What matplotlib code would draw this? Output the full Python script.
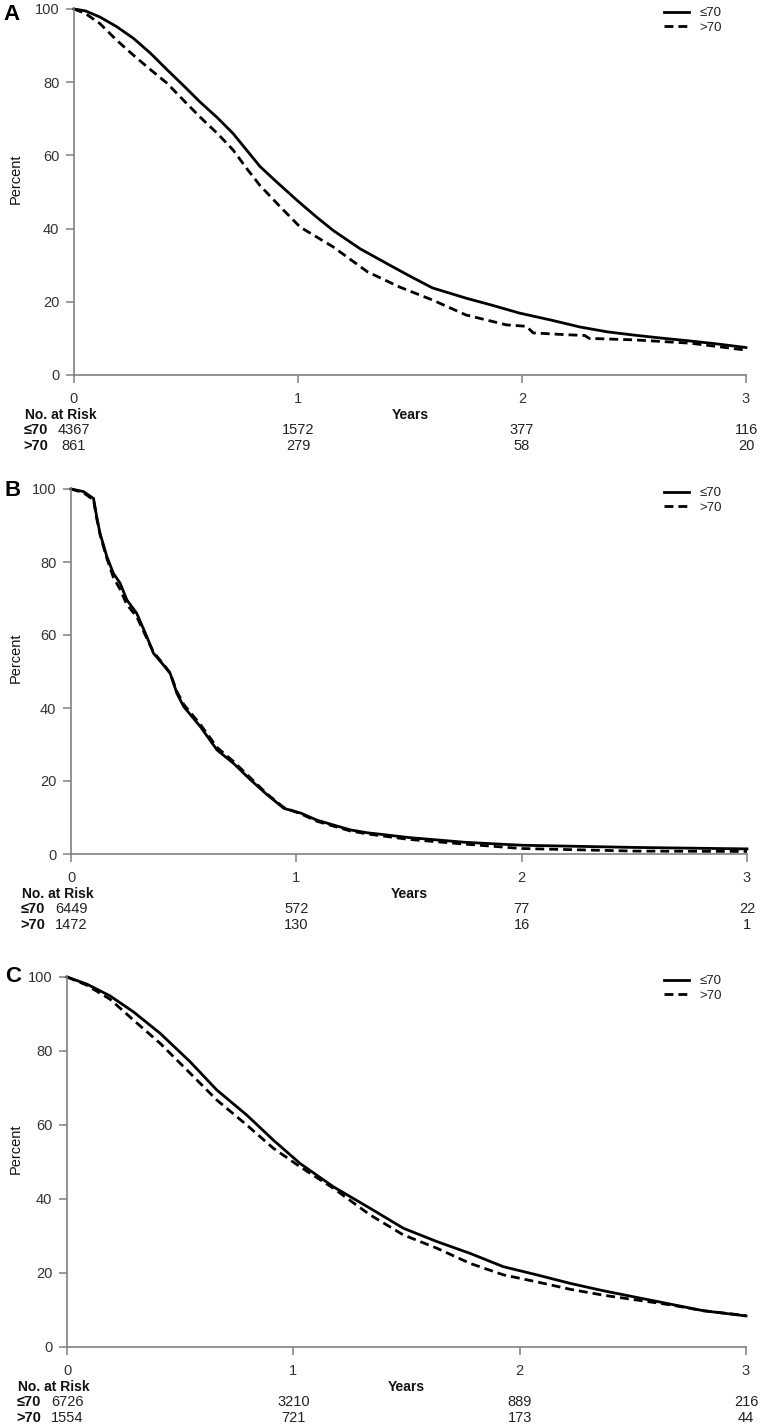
import numpy as np
import matplotlib.pyplot as plt
from matplotlib import transforms

plt.rcParams['font.family'] = ['Liberation Sans', 'DejaVu Sans']

W, H = 762, 1428

# panel A: survival (%) vs years
a_t_le = [0, 0.05, 0.116, 0.19, 0.265, 0.34, 0.414, 0.49, 0.5625, 0.64, 0.71, 0.77, 0.83,
          0.9, 1.0, 1.08, 1.157, 1.277, 1.41, 1.5, 1.6, 1.75, 1.87, 1.99, 2.13, 2.26,
          2.38, 2.5, 2.62, 2.75, 2.87, 3.0]
a_v_le = [100, 99.5, 97.8, 95.2, 92.0, 88.0, 83.5, 79.0, 74.6, 70.3, 66.0, 61.5, 57.0,
          53.0, 47.5, 43.3, 39.5, 34.5, 30.0, 27.0, 23.8, 21.0, 19.0, 16.9, 15.0, 13.1,
          11.8, 10.9, 10.1, 9.3, 8.5, 7.5]
a_t_gt = [0, 0.05, 0.116, 0.19, 0.265, 0.34, 0.414, 0.49, 0.5625, 0.64, 0.71, 0.77, 0.83,
          0.92, 1.01, 1.157, 1.31, 1.455, 1.6, 1.75, 1.93, 2.02, 2.05, 2.2, 2.28, 2.3,
          2.5, 2.75, 3.0]
a_v_gt = [100, 98.8, 96.0, 91.5, 87.4, 83.5, 79.8, 75.0, 70.5, 66.0, 61.5, 56.5, 51.8,
          46.0, 40.4, 35.0, 28.2, 24.0, 20.5, 16.4, 13.7, 13.3, 11.5, 11.0, 10.8, 10.0,
          9.6, 8.7, 6.8]

# panel B
b_t_le = [0, 0.055, 0.10, 0.114, 0.129, 0.159, 0.188, 0.218, 0.248, 0.292, 0.337, 0.366,
          0.41, 0.44, 0.47, 0.50, 0.574, 0.648, 0.722, 0.797, 0.871, 0.945, 1.02, 1.09,
          1.167, 1.24, 1.316, 1.375, 1.5, 1.75, 2.0, 2.5, 3.0]
b_v_le = [100, 99.3, 97.4, 92.4, 87.8, 81.5, 76.9, 74.2, 69.6, 65.9, 59.5, 55.0,
          51.8, 49.5, 44.0, 40.4, 34.9, 28.5, 24.8, 20.3, 16.2, 12.5, 11.2, 9.3,
          7.9, 6.6, 5.8, 5.4, 4.5, 3.2, 2.4, 1.8, 1.4]
b_t_gt = [0, 0.055, 0.10, 0.114, 0.129, 0.159, 0.188, 0.218, 0.248, 0.292, 0.337, 0.366,
          0.41, 0.44, 0.47, 0.50, 0.574, 0.648, 0.722, 0.797, 0.871, 0.945, 1.02, 1.09,
          1.167, 1.24, 1.316, 1.375, 1.5, 1.75, 2.0, 2.5, 3.0]
b_v_gt = [100, 99.0, 97.0, 92.0, 87.5, 81.0, 75.8, 72.5, 68.3, 65.0, 59.0, 55.3,
          52.0, 49.6, 44.5, 41.0, 35.5, 29.2, 25.3, 20.8, 16.4, 12.7, 11.0, 9.0,
          7.6, 6.3, 5.5, 5.0, 4.0, 2.7, 1.5, 0.8, 0.7]

# panel C
c_t_le = [0, 0.087, 0.19, 0.293, 0.411, 0.544, 0.661, 0.794, 0.912, 1.03, 1.177, 1.339,
          1.486, 1.634, 1.781, 1.928, 2.076, 2.223, 2.37, 2.517, 2.665, 2.812, 3.0]
c_v_le = [100, 98.1, 94.9, 90.6, 84.8, 77.1, 69.5, 62.7, 55.9, 49.6, 43.3, 37.5,
          32.1, 28.5, 25.3, 21.7, 19.5, 17.2, 15.2, 13.4, 11.6, 9.8, 8.4]
c_t_gt = [0, 0.087, 0.19, 0.293, 0.411, 0.544, 0.661, 0.794, 0.912, 1.03, 1.177, 1.339,
          1.486, 1.634, 1.781, 1.928, 2.076, 2.223, 2.37, 2.517, 2.665, 2.812, 3.0]
c_v_gt = [100, 97.8, 94.0, 88.4, 82.1, 74.0, 66.8, 60.0, 53.7, 48.7, 42.9, 35.7,
          30.3, 26.7, 22.6, 19.5, 17.6, 15.6, 14.0, 12.7, 11.4, 9.8, 8.5]

risk_times = [0, 1, 2, 3]
a_risk_le = [4367, 1572, 377, 116]
a_risk_gt = [861, 279, 58, 20]
b_risk_le = [6449, 572, 77, 22]
b_risk_gt = [1472, 130, 16, 1]
c_risk_le = [6726, 3210, 889, 216]
c_risk_gt = [1554, 721, 173, 44]

group_labels = ['≤70', '>70']
panel_letters = ['A', 'B', 'C']

panels = [
    (a_t_le, a_v_le, a_t_gt, a_v_gt, a_risk_le, a_risk_gt),
    (b_t_le, b_v_le, b_t_gt, b_v_gt, b_risk_le, b_risk_gt),
    (c_t_le, c_v_le, c_t_gt, c_v_gt, c_risk_le, c_risk_gt),
]
# axes boxes in pixels: left, right, top, bottom
boxes = [(74, 746, 9, 375), (71, 747, 489, 854), (67, 746, 977, 1347)]
letter_pos = [(12, 15), (13, 491), (13, 977)]

gray = '#808080'
fig = plt.figure(figsize=(W / 100, H / 100), dpi=100)

for i, (t1, v1, t2, v2, r1, r2) in enumerate(panels):
    l, r, t, b = boxes[i]
    ax = fig.add_axes([l / W, 1 - b / H, (r - l) / W, (b - t) / H])
    ax.plot(t1, v1, color='black', lw=2.0, label=group_labels[0], clip_on=False)
    ax.plot(t2, v2, color='black', lw=2.0, dashes=(3.2, 1.8), label=group_labels[1],
            clip_on=False)
    ax.set_xlim(0, 3)
    ax.set_ylim(0, 100)
    ax.set_xticks(risk_times)
    ax.set_yticks(range(0, 101, 20))
    for s in ['top', 'right']:
        ax.spines[s].set_visible(False)
    for s in ['left', 'bottom']:
        ax.spines[s].set_color(gray)
        ax.spines[s].set_linewidth(1.2)
    ax.tick_params(direction='out', length=5.5, width=1.1, color=gray,
                   labelcolor='#333333', labelsize=10.5)
    ax.tick_params(axis='x', pad=6.5)
    ax.tick_params(axis='y', pad=5)

    leg = ax.legend(loc='upper left', bbox_to_anchor=((664 - l) / (r - l), 1 + 2 / (b - t)),
                    frameon=False, fontsize=9.5, handlelength=1.9, handletextpad=0.8,
                    labelspacing=0.2, borderpad=0, borderaxespad=0)
    for txt in leg.get_texts():
        txt.set_color('#222222')

    # number at risk table under the axis
    def row(dy):
        return transforms.offset_copy(ax.get_xaxis_transform(), fig=fig, x=0, y=-dy,
                                      units='dots')
    ax.text(0, 0, 'No. at Risk', transform=transforms.offset_copy(
        ax.get_xaxis_transform(), fig=fig, x=-49, y=-40, units='dots'),
        ha='left', va='center', fontsize=10, fontweight='bold', color='#111111')
    ax.text(1.5, 0, 'Years', transform=row(40), ha='center', va='center',
            fontsize=10, fontweight='bold', color='#111111')
    for j, (lab, vals) in enumerate(zip(group_labels, [r1, r2])):
        dy = 55 + 16 * j
        ax.text(0, 0, lab, transform=transforms.offset_copy(
            ax.get_xaxis_transform(), fig=fig, x=-26, y=-dy, units='dots'),
            ha='right', va='center', fontsize=10.5, fontweight='bold', color='#111111')
        for x, n in zip(risk_times, vals):
            ax.text(x, 0, str(n), transform=row(dy), ha='center', va='center',
                    fontsize=10.5, color='#222222')

    # y label and panel letter
    fig.text(16 / W, 1 - (b - 0.537 * (b - t)) / H, 'Percent', rotation=90,
             ha='center', va='center', fontsize=10.5, color='#111111')
    lx, ly = letter_pos[i]
    fig.text(lx / W, 1 - ly / H, panel_letters[i], ha='center', va='center',
             fontsize=16, fontweight='bold')

plt.savefig('out.png', dpi=100)
